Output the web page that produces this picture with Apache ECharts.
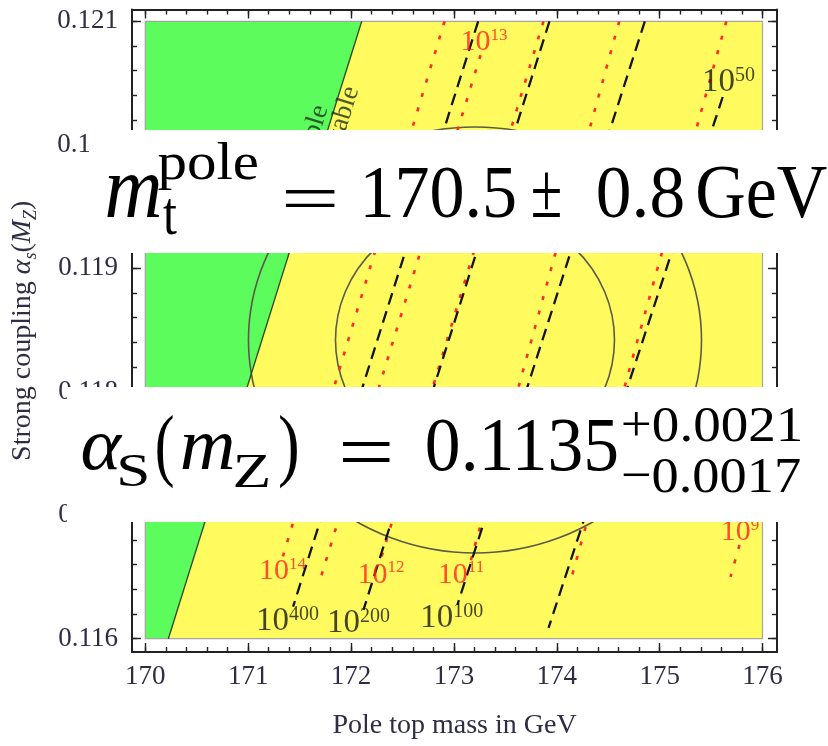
<!DOCTYPE html>
<html>
<head>
<meta charset="utf-8">
<script src="https://cdn.jsdelivr.net/npm/echarts@6/dist/echarts.min.js"></script>
<style>html,body{margin:0;padding:0;background:#fff}#c{width:828px;height:746px}</style>
</head>
<body>
<div id="c"></div>
<script>
// ================= DATA =================
const xTickValues = [170, 171, 172, 173, 174, 175, 176];
const xTickLabels = ['170', '171', '172', '173', '174', '175', '176'];
const yTickValues = [0.116, 0.117, 0.118, 0.119, 0.120, 0.121];
const yTickLabels = ['0.116', '0.117', '0.118', '0.119', '0.120', '0.121'];
const xMinorValues = [];
for (let i = 0; i <= 30; i++) xMinorValues.push(+(170 + i * 0.2).toFixed(1));
const yMinorValues = [];
for (let i = 0; i <= 25; i++) yMinorValues.push(+(0.116 + i * 0.0002).toFixed(4));

// regions (pole top mass GeV, alpha_s)
const metastableRegion = [[170, 0.116], [176, 0.116], [176, 0.121], [170, 0.121]];
const stableRegion = [[170, 0.121], [172.104, 0.121], [170.224, 0.116], [170, 0.116]];
const stabilityBoundary = [[172.104, 0.121], [170.224, 0.116]];

// contour ellipses: [centre m, centre alpha, half-width m, half-height alpha]
const contours = [
  [173.205, 0.118419, 1.356, 0.001061],
  [173.205, 0.118419, 2.202, 0.001725]
];

// lifetime contours (black dashed): 10^400, 10^200, 10^100, 10^50
const lifetimeLines = [
  [[173.236, 0.121], [171.437, 0.11626]],
  [[173.929, 0.121], [172.121, 0.116233]],
  [[174.856, 0.121], [173.034, 0.116274]],
  [[175.613, 0.120387], [173.920, 0.116087]]
];
// instability scale contours (red dotted)
const instabilityLines = [
  [[172.909, 0.121], [171.333, 0.116654]],
  [[173.259, 0.120727], [171.708, 0.1165]],
  [[173.871, 0.121], [172.287, 0.116638]],
  [[174.607, 0.121], [173.161, 0.116623]],
  [[175.648, 0.121], [174.145, 0.1165]],
  [[175.776, 0.116759], [175.689, 0.1165]]
];
const instabilityLabels = [
  [173.293, 0.120832, '13'],
  [171.334, 0.116548, '14'],
  [172.291, 0.116516, '12'],
  [173.069, 0.116516, '11'],
  [175.781, 0.116860, '9']
];
const lifetimeLabels = [
  [175.669, 0.120504, '50'],
  [171.382, 0.116137, '400'],
  [172.073, 0.116123, '200'],
  [172.979, 0.116164, '100']
];
const regionLabels = [
  [171.833, 0.120282, 'Stable', 'bottom'],
  [171.883, 0.120500, 'Metastable', 'top']
];

// ================= LAYOUT / STYLE =================
const XR = [169.8707, 176.141], YR = [0.1158923, 0.1210956];
const SERIF = '"Liberation Serif", "DejaVu Serif", serif';
const TXT = '#2f2d44';
const FRAME = '#222';

function labelFromList(values, labels) {
  return v => {
    let best = 0;
    values.forEach((t, i) => { if (Math.abs(t - v) < Math.abs(values[best] - v)) best = i; });
    return labels[best];
  };
}

function axisDef(kind, pos, major, showLabel) {
  const ticks = kind === 'x' ? (major ? xTickValues : xMinorValues) : (major ? yTickValues : yMinorValues);
  const a = {
    type: 'value', position: pos, min: kind === 'x' ? XR[0] : YR[0], max: kind === 'x' ? XR[1] : YR[1],
    splitLine: { show: false },
    axisLine: { show: major, onZero: false, lineStyle: { color: FRAME, width: 2 } },
    axisTick: { show: true, inside: true, length: major ? 9 : 5, customValues: ticks, lineStyle: { color: FRAME, width: 1.4 } },
    axisLabel: { show: false }
  };
  if (showLabel) {
    a.axisLabel = {
      show: true, customValues: ticks,
      formatter: kind === 'x' ? labelFromList(xTickValues, xTickLabels) : labelFromList(yTickValues, yTickLabels),
      fontFamily: SERIF, fontSize: 27, color: TXT, margin: kind === 'x' ? 11 : 14
    };
  }
  return a;
}

const xAxes = [axisDef('x', 'bottom', true, true), axisDef('x', 'bottom', false, false),
               axisDef('x', 'top', true, false), axisDef('x', 'top', false, false)];
xAxes[0].name = 'Pole top mass in GeV';
xAxes[0].nameLocation = 'middle';
xAxes[0].nameGap = 60;
xAxes[0].nameTextStyle = { fontFamily: SERIF, fontSize: 28, color: TXT };

const yAxes = [axisDef('y', 'left', true, true), axisDef('y', 'left', false, false),
               axisDef('y', 'right', true, false), axisDef('y', 'right', false, false)];
yAxes[0].name = '{r|Strong coupling }{i|α}{sub|s}{r|(}{i|M}{sub|Z}{r|)}';
yAxes[0].nameLocation = 'middle';
yAxes[0].nameGap = 92;
yAxes[0].nameTextStyle = {
  fontFamily: SERIF, fontSize: 28, color: TXT,
  rich: {
    r: { fontFamily: SERIF, fontSize: 28, color: TXT, lineHeight: 34, verticalAlign: 'middle' },
    i: { fontFamily: SERIF, fontSize: 28, fontStyle: 'italic', color: TXT, lineHeight: 34, verticalAlign: 'middle' },
    sub: { fontFamily: SERIF, fontSize: 18, fontStyle: 'italic', color: TXT, lineHeight: 20, verticalAlign: 'bottom' }
  }
};

function polygonSeries(pts, fill, stroke, z) {
  return {
    type: 'custom', xAxisIndex: 0, yAxisIndex: 0, z, silent: true, animation: false,
    data: [pts[0]], encode: { x: 0, y: 1 },
    renderItem: (params, api) => ({
      type: 'polygon',
      shape: { points: pts.map(p => api.coord(p)) },
      style: stroke ? { fill: 'none', stroke, lineWidth: 1.2 } : { fill }
    })
  };
}

function lineSeries(pts, style, z) {
  return { type: 'line', xAxisIndex: 0, yAxisIndex: 0, data: pts, symbol: 'none', silent: true,
           animation: false, z, lineStyle: style };
}

const series = [];
series.push(polygonSeries(metastableRegion, '#fffb5f', null, 1));
series.push(polygonSeries(stableRegion, '#5cfc5c', null, 1));
series.push(polygonSeries(metastableRegion, null, '#a4a4a4', 2));
series.push(lineSeries(stabilityBoundary, { color: '#2a4a2a', width: 1.3 }, 3));
series.push({
  type: 'custom', xAxisIndex: 0, yAxisIndex: 0, z: 3, silent: true, animation: false,
  data: contours, encode: { x: 0, y: 1 },
  renderItem: (params, api) => {
    const cx = api.value(0), cy = api.value(1), rx = api.value(2), ry = api.value(3);
    const c = api.coord([cx, cy]);
    const e = api.coord([cx + rx, cy + ry]);
    const rxp = e[0] - c[0], ryp = c[1] - e[1];
    return { type: 'circle', x: c[0], y: c[1], scaleX: rxp / ryp, shape: { cx: 0, cy: 0, r: ryp },
             style: { fill: 'none', stroke: '#5b5b4a', lineWidth: 1.5, strokeNoScale: true } };
  }
});
instabilityLines.forEach(l => series.push(lineSeries(l, { color: '#ff2a2a', width: 2.6, type: [4, 11] }, 4)));
lifetimeLines.forEach(l => series.push(lineSeries(l, { color: '#141414', width: 2.3, type: [12, 7] }, 5)));

function labelSeries(list, color, big, small, supLH) {
  return {
    type: 'scatter', xAxisIndex: 0, yAxisIndex: 0, z: 6, silent: true, animation: false,
    symbol: 'circle', symbolSize: 0.1, itemStyle: { color: 'rgba(0,0,0,0)' },
    data: list.map(l => ({ value: [l[0], l[1]], name: l[2] })),
    label: {
      show: true, position: 'inside',
      formatter: p => '{b|10}{s|' + p.name + '}',
      rich: {
        b: { fontFamily: SERIF, fontSize: big, color, lineHeight: big + 1, verticalAlign: 'middle' },
        s: { fontFamily: SERIF, fontSize: small, color, lineHeight: supLH, verticalAlign: 'top' }
      }
    }
  };
}
series.push(labelSeries(instabilityLabels, '#ff2020', 30, 17, 16));
series.push(labelSeries(lifetimeLabels, '#161616', 33, 20, 15));

series.push({
  type: 'scatter', xAxisIndex: 0, yAxisIndex: 0, z: 6, silent: true, animation: false,
  symbol: 'circle', symbolSize: 0.1, itemStyle: { color: 'rgba(0,0,0,0)' },
  data: regionLabels.map(l => ({ value: [l[0], l[1]], name: l[2], label: { verticalAlign: l[3] } })),
  label: { show: true, position: 'inside', rotate: 72.6, align: 'right',
           formatter: p => p.name, fontFamily: SERIF, fontSize: 27, color: '#1f2f1f' }
});

// ================= BANNERS (overlaid text boxes) =================
const mc = document.createElement('canvas').getContext('2d');
function piece(text, x0, x1, y0, y1, italic) {
  const font = (italic ? 'italic ' : '') + '100px "Liberation Serif"';
  mc.font = font;
  mc.textAlign = 'left';
  mc.textBaseline = 'middle';
  const m = mc.measureText(text);
  const inkL = m.actualBoundingBoxLeft, inkW = m.actualBoundingBoxLeft + m.actualBoundingBoxRight;
  const asc = m.actualBoundingBoxAscent, desc = m.actualBoundingBoxDescent;
  const sx = (x1 - x0) / inkW, sy = (y1 - y0) / (asc + desc);
  return { type: 'text', z: 101, x: x0 + inkL * sx, y: y0 + asc * sy, scaleX: sx, scaleY: sy,
           style: { text, font, fill: '#000', textAlign: 'left', textVerticalAlign: 'middle' } };
}
const graphics = [
  { type: 'rect', z: 100, x: 89, y: 130, shape: { x: 0, y: 0, width: 739, height: 123 }, style: { fill: '#fff' } },
  piece('m', 107, 160, 175, 218, true),
  piece('pole', 158, 257, 143, 190, false),
  piece('t', 163, 177, 200, 235, false),
  piece('=', 285, 335, 190, 207, false),
  piece('170.5', 365, 515, 168, 218, false),
  piece('\u00b1', 533, 560, 172, 217, false),
  piece('0.8', 598, 683, 168, 218, false),
  piece('GeV', 698, 827, 167, 219, false),
  { type: 'rect', z: 100, x: 67, y: 387, shape: { x: 0, y: 0, width: 761, height: 135 }, style: { fill: '#fff' } },
  piece('\u03b1', 82, 123, 435, 470, true),
  piece('S', 120, 147, 455, 487, false),
  piece('(', 157, 173, 415, 488, false),
  piece('m', 182, 233, 435, 470, true),
  piece('Z', 235, 268, 455, 487, false),
  piece(')', 280, 297, 415, 488, false),
  piece('=', 342, 390, 442, 462, false),
  piece('0.1135', 427, 617, 420, 472, false),
  piece('+0.0021', 623, 800, 407, 442, false),
  piece('\u22120.0017', 623, 800, 458, 493, false)
];

const chart = echarts.init(document.getElementById('c'), null, { renderer: 'canvas' });
chart.setOption({
  animation: false,
  backgroundColor: '#fff',
  grid: { left: 132, top: 9.5, width: 645, height: 642.5, containLabel: false, outerBoundsMode: 'none' },
  xAxis: xAxes,
  yAxis: yAxes,
  series,
  graphic: graphics
});
</script>
</body>
</html>
